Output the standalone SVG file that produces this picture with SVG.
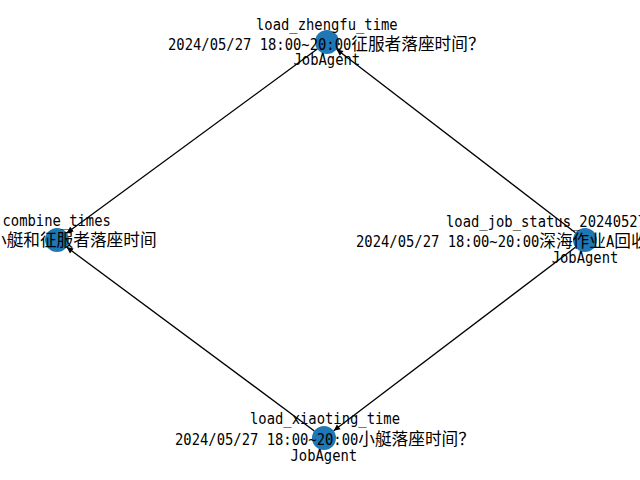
<svg xmlns="http://www.w3.org/2000/svg" width="640" height="480" viewBox="0 0 640 480">
<defs>
<style>
.edge{stroke:#000;stroke-width:1.3;fill:none;marker-end:url(#ah)}
.node{fill:#1f77b4}
.lat{font-family:"DejaVu Sans Mono","Liberation Mono",monospace;font-size:15px;fill:#000}
.cjk{font-family:"Noto Sans CJK SC","Noto Sans CJK JP",sans-serif;font-size:16.67px;fill:#000}
</style>
<marker id="ah" viewBox="-7 -3.5 7 7" refX="0" refY="0" markerWidth="7" markerHeight="7" markerUnits="userSpaceOnUse" orient="auto">
<path d="M0,0 L-6.5,-3 L-6.5,3 Z" fill="#000"/>
</marker>
</defs>
<rect width="640" height="480" fill="#fff"/>
<g id="connectors">
<line class="edge" x1="317.3" y1="49.1" x2="66.7" y2="232.9"/>
<line class="edge" x1="575.5" y1="232.7" x2="336.5" y2="49.3"/>
<line class="edge" x1="575.4" y1="247.3" x2="333.6" y2="430.7"/>
<line class="edge" x1="314.4" y1="430.9" x2="66.6" y2="247.1"/>
</g>
<g id="load_zhengfu_time">
<circle class="node" cx="327" cy="42" r="12"/>
<text class="lat" x="256" y="29.5" textLength="141.7" lengthAdjust="spacingAndGlyphs">load_zhengfu_time</text>
<text class="lat" x="168" y="50" textLength="183.3" lengthAdjust="spacingAndGlyphs">2024/05/27 18:00~20:00</text>
<text class="cjk" x="351.3" y="50">征服者落座时间？</text>
<text class="lat" x="293.5" y="65" textLength="66.7" lengthAdjust="spacingAndGlyphs">JobAgent</text>
</g>
<g id="combine_times">
<circle class="node" cx="57" cy="240" r="12"/>
<text class="lat" x="2.5" y="226" textLength="108.3" lengthAdjust="spacingAndGlyphs">combine_times</text>
<text class="cjk" x="-10" y="246">小艇和征服者落座时间</text>
</g>
<g id="load_job_status_20240527">
<circle class="node" cx="585" cy="240" r="12"/>
<text class="lat" x="446" y="227" textLength="200" lengthAdjust="spacingAndGlyphs">load_job_status_20240527</text>
<text class="lat" x="356" y="247" textLength="183.3" lengthAdjust="spacingAndGlyphs">2024/05/27 18:00~20:00</text>
<text class="cjk" x="539.3" y="247">深海作业</text>
<text class="lat" x="606" y="247" textLength="8.3" lengthAdjust="spacingAndGlyphs">A</text>
<text class="cjk" x="614.3" y="247">回收</text>
<text class="lat" x="551.7" y="263" textLength="66.7" lengthAdjust="spacingAndGlyphs">JobAgent</text>
</g>
<g id="load_xiaoting_time">
<circle class="node" cx="324" cy="438" r="12"/>
<text class="lat" x="250" y="424" textLength="150" lengthAdjust="spacingAndGlyphs">load_xiaoting_time</text>
<text class="lat" x="175" y="445" textLength="183.3" lengthAdjust="spacingAndGlyphs">2024/05/27 18:00~20:00</text>
<text class="cjk" x="358.3" y="445">小艇落座时间？</text>
<text class="lat" x="290.5" y="461" textLength="66.7" lengthAdjust="spacingAndGlyphs">JobAgent</text>
</g>
</svg>
